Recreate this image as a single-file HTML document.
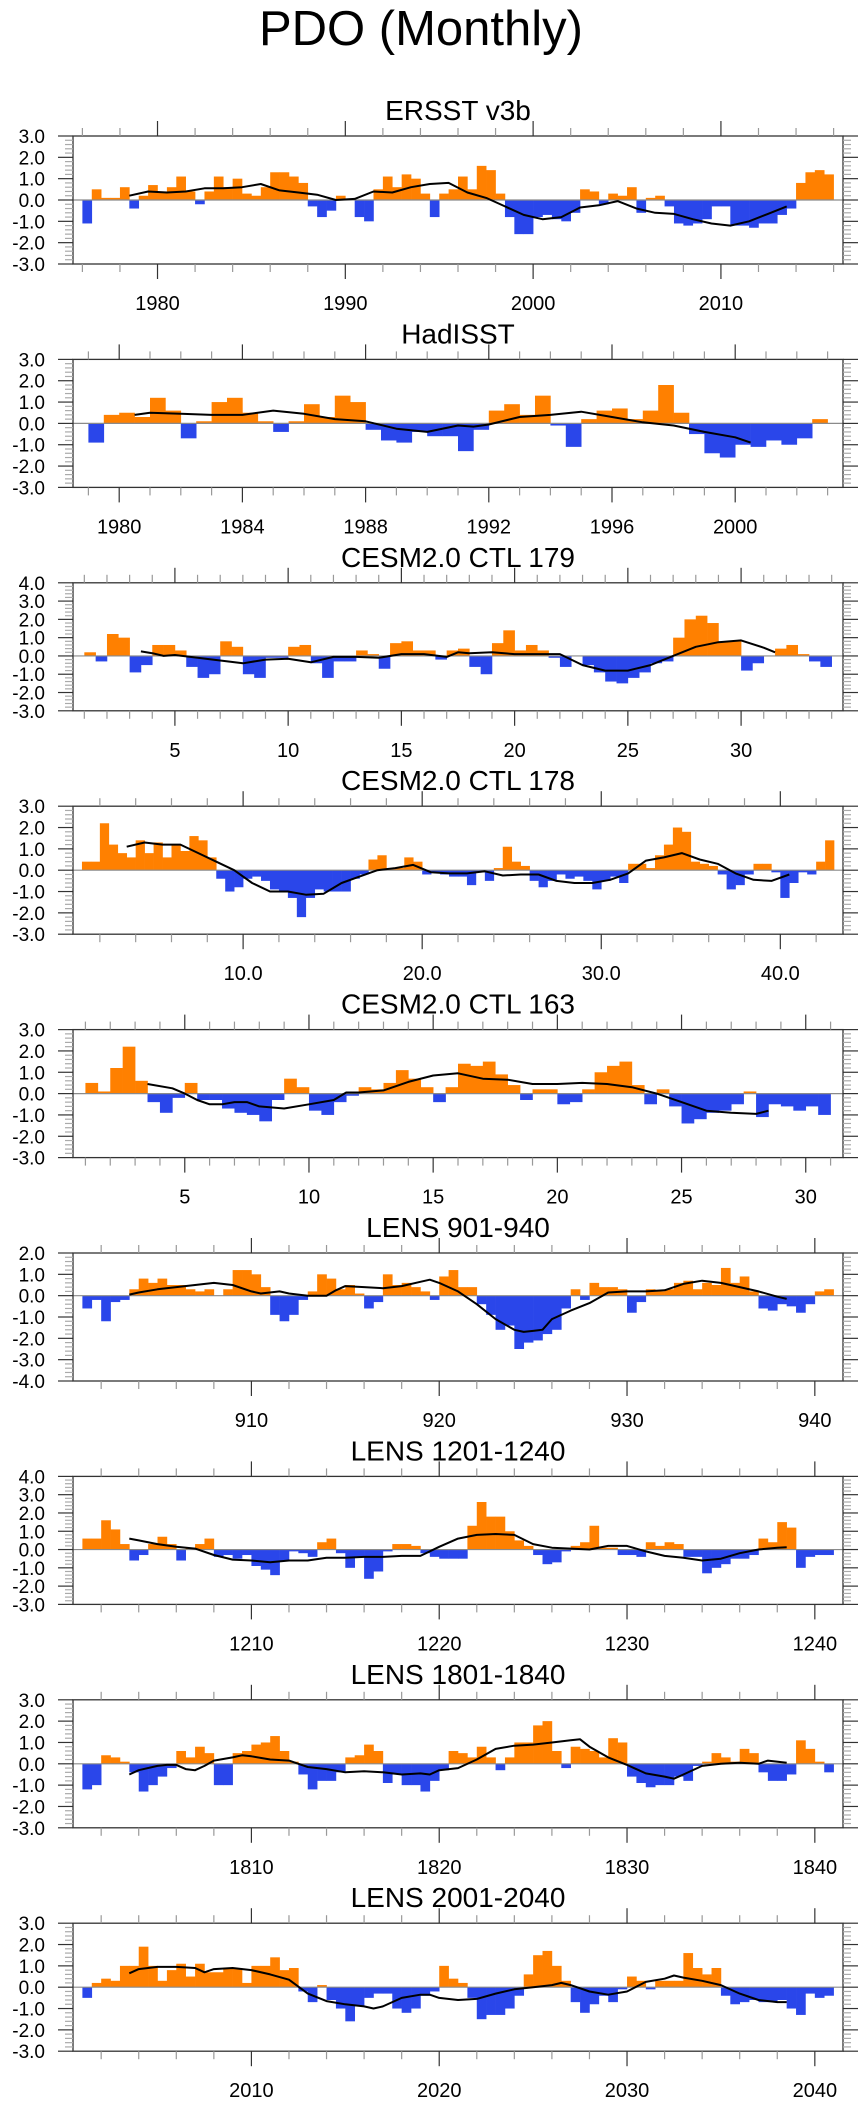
<!DOCTYPE html>
<html><head><meta charset="utf-8"><title>PDO (Monthly)</title>
<style>
html,body{margin:0;padding:0;background:#fff;}
svg{display:block;font-family:"Liberation Sans",Arial,sans-serif;}
</style></head>
<body>
<svg id="chart" width="867" height="2107" viewBox="0 0 867 2107" xmlns="http://www.w3.org/2000/svg">
<text x="421" y="45" font-size="49" text-anchor="middle" fill="#000">PDO (Monthly)</text>
</svg>
<script>
// ---------- data (half-year bins) ----------
const titles = ["ERSST v3b","HadISST","CESM2.0 CTL 179","CESM2.0 CTL 178","CESM2.0 CTL 163","LENS 901-940","LENS 1201-1240","LENS 1801-1840","LENS 2001-2040"];
const startYears = [1976,1979,1,1,1,901,1201,1801,2001];
const xMins = [1975.5,1978.5,0.5,0.5,0.5,900.5,1200.5,1800.5,2000.5];
const xMaxs = [2016.5,2003.5,34.5,43.5,31.5,941.5,1241.5,1841.5,2041.5];
const yMins = [-3,-3,-3,-3,-3,-4,-3,-3,-3];
const yMaxs = [3,3,4,3,3,2,4,3,3];
const majorSteps = [10,4,5,10,5,10,10,10,10];
const minorSteps = [2,1,1,2,1,2,2,2,2];
const labelDecimals = [0,0,0,1,0,0,0,0,0];

const p1Values = [-1.1,0.5,0.1,0.1,0.6,-0.4,0.2,0.7,0.4,0.6,1.1,0.4,-0.2,0.4,1.1,0.6,1.0,0.3,0.2,0.6,1.3,1.3,1.1,0.8,-0.3,-0.8,-0.5,0.2,0.0,-0.8,-1.0,0.5,1.1,0.6,1.2,1.0,0.3,-0.8,0.3,0.5,1.1,0.5,1.6,1.4,0.3,-0.8,-1.6,-1.6,-0.8,-0.7,-0.9,-1.0,-0.6,0.5,0.4,-0.2,0.3,0.2,0.6,-0.6,0.1,0.2,-0.3,-1.1,-1.2,-1.1,-0.9,-0.3,-0.3,-1.2,-1.2,-1.3,-1.1,-1.1,-0.7,-0.4,0.8,1.3,1.4,1.2];
const p2Values = [-0.9,0.4,0.5,0.3,1.2,0.6,-0.7,0.1,1.0,1.2,0.5,0.1,-0.4,0.1,0.9,0.3,1.3,1.0,-0.3,-0.8,-0.9,-0.4,-0.6,-0.6,-1.3,-0.3,0.6,0.9,0.4,1.3,-0.1,-1.1,0.2,0.6,0.7,0.2,0.6,1.8,0.5,-0.5,-1.4,-1.6,-1.0,-1.1,-0.8,-1.0,-0.7,0.2];
const p3Values = [0.2,-0.3,1.2,1.0,-0.9,-0.5,0.6,0.6,0.3,-0.6,-1.2,-1.0,0.8,0.5,-1.0,-1.2,-0.1,-0.1,0.5,0.6,-0.4,-1.2,-0.3,-0.3,0.3,0.1,-0.7,0.7,0.8,0.3,0.3,-0.2,0.3,0.4,-0.6,-1.0,0.7,1.4,0.3,0.6,0.3,-0.1,-0.6,0.0,-0.5,-0.9,-1.4,-1.5,-1.2,-0.9,-0.4,-0.3,1.0,2.0,2.2,1.8,0.8,0.8,-0.8,-0.4,0.0,0.4,0.6,0.1,-0.3,-0.6];
const p4Values = [0.4,0.4,2.2,1.2,0.8,0.6,1.4,0.8,1.3,0.6,1.2,0.9,1.6,1.4,0.6,-0.4,-1.0,-0.8,-0.4,-0.3,-0.5,-0.9,-1.0,-1.3,-2.2,-1.3,-0.9,-1.0,-1.0,-1.0,-0.4,-0.2,0.5,0.7,0.1,0.1,0.6,0.4,-0.2,-0.1,-0.2,-0.3,-0.3,-0.7,-0.1,-0.5,0.1,1.1,0.4,0.2,-0.5,-0.8,-0.5,-0.2,-0.4,-0.3,-0.5,-0.9,-0.5,-0.3,-0.6,0.3,0.3,0.1,0.7,1.2,2.0,1.8,0.4,0.3,0.2,-0.2,-0.9,-0.7,-0.2,0.3,0.3,-0.1,-1.3,-0.6,-0.1,-0.2,0.4,1.4];
const p5Values = [0.5,0.1,1.2,2.2,0.6,-0.4,-0.9,-0.2,0.5,-0.3,-0.3,-0.7,-0.9,-1.0,-1.3,-0.3,0.7,0.3,-0.8,-1.0,-0.4,-0.1,0.3,0.2,0.5,1.1,0.7,0.3,-0.4,0.3,1.4,1.3,1.5,0.9,0.4,-0.3,0.2,0.2,-0.5,-0.4,0.2,1.0,1.3,1.5,0.4,-0.5,0.2,-0.6,-1.4,-1.2,-0.9,-0.8,-0.5,0.1,-1.1,-0.5,-0.6,-0.8,-0.6,-1.0];
const p6Values = [-0.6,-0.2,-1.2,-0.3,-0.2,0.3,0.8,0.6,0.8,0.5,0.5,0.3,0.2,0.3,0.0,0.3,1.2,1.2,1.0,0.4,-0.9,-1.2,-0.9,-0.2,0.2,1.0,0.8,0.3,0.5,0.1,-0.6,-0.3,1.0,0.5,0.6,0.4,0.2,-0.2,0.9,1.2,0.4,0.4,-0.4,-0.9,-1.6,-1.4,-2.5,-2.2,-2.1,-1.8,-1.6,-0.6,0.3,-0.2,0.6,0.4,0.4,0.3,-0.8,-0.3,0.3,0.2,0.3,0.6,0.7,0.3,0.6,0.5,1.3,0.6,0.9,0.2,-0.6,-0.7,-0.4,-0.5,-0.8,-0.4,0.2,0.3];
const p7Values = [0.6,0.6,1.6,1.1,0.3,-0.6,-0.3,0.3,0.7,0.3,-0.6,0.1,0.3,0.6,-0.4,-0.3,-0.5,-0.3,-0.9,-1.1,-1.4,-0.6,-0.1,-0.2,-0.4,0.4,0.6,-0.2,-1.0,-0.4,-1.6,-1.2,-0.1,0.3,0.3,0.2,-0.2,-0.4,-0.5,-0.5,-0.5,1.3,2.6,1.8,1.8,1.0,0.5,0.2,-0.3,-0.8,-0.7,-0.1,0.2,0.4,1.3,0.1,0.1,-0.3,-0.3,-0.4,0.4,0.2,0.4,0.3,-0.4,-0.4,-1.3,-1.0,-0.8,-0.5,-0.5,-0.3,0.6,0.4,1.5,1.2,-1.0,-0.4,-0.3,-0.3];
const p8Values = [-1.2,-1.0,0.4,0.3,0.1,-0.4,-1.3,-1.0,-0.6,-0.2,0.6,0.3,0.8,0.5,-1.0,-1.0,0.5,0.6,0.9,1.0,1.3,0.6,0.1,-0.5,-1.2,-0.8,-0.8,-0.4,0.3,0.4,0.9,0.6,-0.9,-0.5,-1.0,-1.0,-1.3,-0.8,-0.3,0.6,0.5,0.3,0.8,0.3,-0.3,0.3,1.0,1.0,1.8,2.0,0.6,-0.2,0.8,0.7,0.6,0.3,1.2,1.0,-0.6,-0.9,-1.1,-1.0,-1.0,-0.6,-0.8,-0.1,0.1,0.5,0.3,0.1,0.7,0.5,-0.4,-0.8,-0.8,-0.5,1.1,0.7,0.1,-0.4];
const p9Values = [-0.5,0.2,0.4,0.3,1.0,1.0,1.9,1.0,0.3,0.8,1.1,0.5,1.1,0.7,0.7,0.9,0.9,0.2,1.0,1.0,1.4,0.8,0.9,-0.2,-0.7,0.1,-0.6,-1.0,-1.6,-0.9,-0.5,-0.3,-0.3,-1.0,-1.2,-1.0,-0.4,-0.2,1.0,0.4,0.2,-0.5,-1.5,-1.3,-1.3,-1.0,-0.4,0.6,1.5,1.7,1.0,0.3,-0.7,-1.2,-0.8,-0.4,-0.7,-0.1,0.5,0.3,-0.1,0.3,0.3,0.3,1.6,0.9,0.6,0.9,-0.4,-0.8,-0.7,-0.6,-0.7,-0.7,-0.6,-1.0,-1.3,-0.3,-0.5,-0.4];

// ---------- smoothed curves ----------
const p1SmoothX = [1978.5,1979.5,1980.5,1981.5,1982.5,1983.5,1984.5,1985.5,1986.5,1987.5,1988.5,1989.5,1990.5,1991.5,1992.5,1993.5,1994.5,1995.5,1996.5,1997.5,1998.5,1999.5,2000.5,2001.5,2002.5,2003.5,2004.5,2005.5,2006.5,2007.5,2008.5,2009.5,2010.5,2011.5,2012.5,2013.5];
const p1SmoothY = [0.2,0.4,0.35,0.4,0.55,0.55,0.6,0.75,0.45,0.35,0.25,0.0,0.05,0.4,0.35,0.6,0.75,0.8,0.35,0.1,-0.3,-0.7,-0.9,-0.8,-0.35,-0.25,-0.05,-0.4,-0.6,-0.65,-0.9,-1.1,-1.2,-1.0,-0.65,-0.3];
const p2SmoothX = [1980.5,1981,1982,1983,1984,1985,1986,1987,1988,1989,1990,1991,1991.5,1992,1993,1994,1995,1996,1997,1998,1999,2000,2000.5];
const p2SmoothY = [0.4,0.5,0.45,0.4,0.4,0.6,0.45,0.2,0.1,-0.25,-0.4,-0.1,-0.15,-0.05,0.3,0.4,0.55,0.3,0.05,-0.1,-0.4,-0.65,-0.9];
const p3SmoothX = [3.5,4,4.5,5,6,7,8,9,10,11,12,13,14,15,16,17,17.5,18,19,20,21,22,23,24,25,26,27,28,29,30,31,31.5];
const p3SmoothY = [0.25,0.15,0.0,0.05,-0.1,-0.25,-0.4,-0.2,-0.15,-0.35,-0.05,-0.05,-0.1,0.1,0.1,-0.05,0.2,0.15,0.2,0.1,0.1,0.1,-0.5,-0.8,-0.8,-0.5,0.0,0.5,0.75,0.85,0.45,0.2];
const p4SmoothX = [3.5,4.5,5.5,6.5,7.5,8.5,9.5,10.5,11.5,12.5,13.5,14.5,15.5,16.5,17.5,18.5,19.5,20.5,21.5,22.5,23.5,24.5,25.5,26.5,27.5,28.5,29.5,30.5,31.5,32.5,33.5,34.5,35.5,36.5,37.5,38.5,39.5,40.5];
const p4SmoothY = [1.1,1.3,1.2,1.2,0.8,0.4,0.0,-0.6,-1.0,-1.0,-1.15,-1.1,-0.6,-0.3,0.0,0.1,0.25,-0.1,-0.15,-0.15,-0.05,-0.25,-0.2,-0.2,-0.5,-0.6,-0.6,-0.45,-0.15,0.45,0.6,0.8,0.5,0.3,-0.15,-0.45,-0.5,-0.2];
const p5SmoothX = [3.5,4.5,5,5.5,6,6.5,7,7.5,8,9,10,11,11.5,12,13,14,15,16,17,18,19,20,21,22,23,24,25,26,27,28,28.5];
const p5SmoothY = [0.45,0.25,0.0,-0.3,-0.5,-0.5,-0.4,-0.4,-0.6,-0.7,-0.5,-0.3,0.05,0.05,0.15,0.55,0.85,0.95,0.7,0.65,0.45,0.45,0.5,0.45,0.3,0.0,-0.4,-0.8,-0.9,-0.95,-0.8];
const p6SmoothX = [903.5,904,905,906,907,908,909,910,910.5,911.5,912,913,914,914.5,915,916,917,918,919,919.5,920,921,922,923,924,924.5,925,925.5,926,927,928,929,930,931,932,933,934,935,936,937,938,938.5];
const p6SmoothY = [0.05,0.15,0.3,0.4,0.5,0.6,0.5,0.2,0.1,0.2,0.1,0.0,0.0,0.25,0.45,0.4,0.35,0.45,0.65,0.75,0.6,0.2,-0.4,-1.1,-1.6,-1.7,-1.65,-1.6,-1.1,-0.7,-0.35,0.15,0.2,0.2,0.25,0.55,0.7,0.6,0.4,0.2,-0.05,-0.15];
const p7SmoothX = [1203.5,1204,1205,1206,1207,1208,1209,1210,1211,1212,1213,1214,1215,1216,1217,1218,1219,1220,1221,1222,1223,1224,1225,1226,1227,1228,1229,1230,1231,1232,1233,1234,1235,1236,1237,1238,1238.5];
const p7SmoothY = [0.6,0.5,0.3,0.15,0.05,-0.3,-0.55,-0.6,-0.7,-0.6,-0.6,-0.45,-0.45,-0.4,-0.4,-0.35,-0.35,0.15,0.6,0.8,0.85,0.8,0.3,0.1,0.05,0.0,0.2,0.2,-0.1,-0.35,-0.45,-0.6,-0.5,-0.2,0.0,0.1,0.12];
const p8SmoothX = [1803.5,1804,1805,1805.5,1806,1806.5,1807,1807.5,1808,1809,1809.5,1810,1811,1812,1812.5,1813,1814,1815,1816,1817,1818,1819,1819.5,1820,1821,1822,1823,1824,1825,1826,1827,1827.5,1828,1829,1830,1831,1832,1832.5,1833,1834,1835,1836,1837,1837.5,1838.5];
const p8SmoothY = [-0.5,-0.3,-0.1,-0.05,-0.05,-0.25,-0.3,-0.1,0.15,0.3,0.4,0.35,0.2,0.15,0.0,-0.15,-0.25,-0.4,-0.35,-0.4,-0.5,-0.45,-0.5,-0.3,-0.2,0.2,0.7,0.85,0.9,1.0,1.1,1.15,0.8,0.3,-0.05,-0.45,-0.6,-0.7,-0.5,-0.1,0.0,0.05,0.0,0.15,0.05];
const p9SmoothX = [2003.5,2004,2005,2006,2007,2007.5,2008,2009,2010,2011,2012,2013,2014,2015,2016,2016.5,2017,2018,2019,2019.5,2020,2021,2022,2023,2024,2025,2026,2026.5,2027,2028,2029,2030,2031,2032,2032.5,2033,2034,2035,2036,2037,2038,2038.5];
const p9SmoothY = [0.65,0.85,0.95,0.95,0.9,0.7,0.85,0.9,0.8,0.6,0.35,-0.3,-0.65,-0.8,-0.9,-1.0,-0.9,-0.5,-0.35,-0.35,-0.5,-0.6,-0.55,-0.3,-0.1,0.0,0.1,0.2,0.1,-0.2,-0.35,-0.2,0.25,0.4,0.55,0.45,0.3,0.1,-0.3,-0.6,-0.7,-0.7];

const allValues = [p1Values,p2Values,p3Values,p4Values,p5Values,p6Values,p7Values,p8Values,p9Values];
const allSmoothX = [p1SmoothX,p2SmoothX,p3SmoothX,p4SmoothX,p5SmoothX,p6SmoothX,p7SmoothX,p8SmoothX,p9SmoothX];
const allSmoothY = [p1SmoothY,p2SmoothY,p3SmoothY,p4SmoothY,p5SmoothY,p6SmoothY,p7SmoothY,p8SmoothY,p9SmoothY];

// ---------- drawing ----------
const NS = "http://www.w3.org/2000/svg";
const svg = document.getElementById("chart");
const L = 73, R = 843, H = 128, TOP0 = 136, GAP = 223.4;
function mk(tag, attrs, parent){
  const e = document.createElementNS(NS, tag);
  for (const k in attrs) e.setAttribute(k, attrs[k]);
  parent.appendChild(e);
  return e;
}
for (let p = 0; p < 9; p++) {
  const top = TOP0 + GAP * p, bot = top + H;
  const x0 = xMins[p], x1 = xMaxs[p], y0 = yMins[p], y1 = yMaxs[p];
  const xs = v => L + (v - x0) / (x1 - x0) * (R - L);
  const ys = v => bot - (v - y0) / (y1 - y0) * H;
  const g = mk("g", {}, svg);
  
  

  const t = mk("text", {x: (L + R) / 2, y: top - 16, "font-size": 28, "text-anchor": "middle", fill: "#000"}, g);
  t.textContent = titles[p];
  
  

  const bars = mk("g", {}, g);
  
  
  const vals = allValues[p];
  for (let i = 0; i < vals.length; i++) {
    const ta = startYears[p] + i * 0.5, tb = ta + 0.5;
    const v = vals[i];
    const ya = ys(Math.max(v, 0)), yb = ys(Math.min(v, 0));
    const r = mk("rect", {x: xs(ta), y: ya, width: xs(tb) - xs(ta) + 0.3, height: Math.max(yb - ya, 0), fill: v >= 0 ? "#ff8000" : "#2a46ea"}, bars);
    
    
  }
  const z = mk("line", {x1: L, x2: R, y1: ys(0), y2: ys(0), stroke: "#8a8a8a", "stroke-width": 1.2}, g);
  
  
  const sx = allSmoothX[p], sy = allSmoothY[p];
  let d = "";
  for (let i = 0; i < sx.length; i++) d += (i ? "L" : "M") + xs(sx[i]).toFixed(1) + "," + ys(sy[i]).toFixed(1);
  const pl = mk("path", {d: d, fill: "none", stroke: "#000", "stroke-width": 2, "stroke-linejoin": "round"}, g);
  
  
  const fr = mk("rect", {x: L, y: top, width: R - L, height: H, fill: "none", stroke: "#333", "stroke-width": 1.3}, g);
  
  

  const yax = mk("g", {}, g);
  
  
  for (let k = Math.round(y0 * 5); k <= Math.round(y1 * 5); k++) {
    const v = k / 5, yy = ys(v), major = (k % 5 === 0);
    const len = major ? 15 : 8;
    const col = major ? "#333" : "#aaa";
    mk("line", {x1: L - len, x2: L, y1: yy, y2: yy, stroke: col, "stroke-width": 1.2}, yax);
    mk("line", {x1: R, x2: R + len, y1: yy, y2: yy, stroke: col, "stroke-width": 1.2}, yax);
    if (major) {
      const lt = mk("text", {x: 45, y: yy + 7, "font-size": 19, "text-anchor": "end", fill: "#000"}, yax);
      lt.textContent = v.toFixed(1);
      
      
    }
  }
  const xax = mk("g", {}, g);
  
  
  const ms = minorSteps[p], Ms = majorSteps[p];
  for (let v = Math.ceil(x0 / ms) * ms; v <= x1; v += ms) {
    const xx = xs(v), major = (Math.round(v) % Ms === 0);
    const len = major ? 15 : 8;
    const col = major ? "#333" : "#999";
    mk("line", {x1: xx, x2: xx, y1: top - len, y2: top, stroke: col, "stroke-width": 1.2}, xax);
    mk("line", {x1: xx, x2: xx, y1: bot, y2: bot + len, stroke: col, "stroke-width": 1.2}, xax);
    if (major) {
      const lt = mk("text", {x: xx, y: top + 174, "font-size": 20, "text-anchor": "middle", fill: "#000"}, xax);
      lt.textContent = v.toFixed(labelDecimals[p]);
      
      
    }
  }
}
</script>
</body></html>
